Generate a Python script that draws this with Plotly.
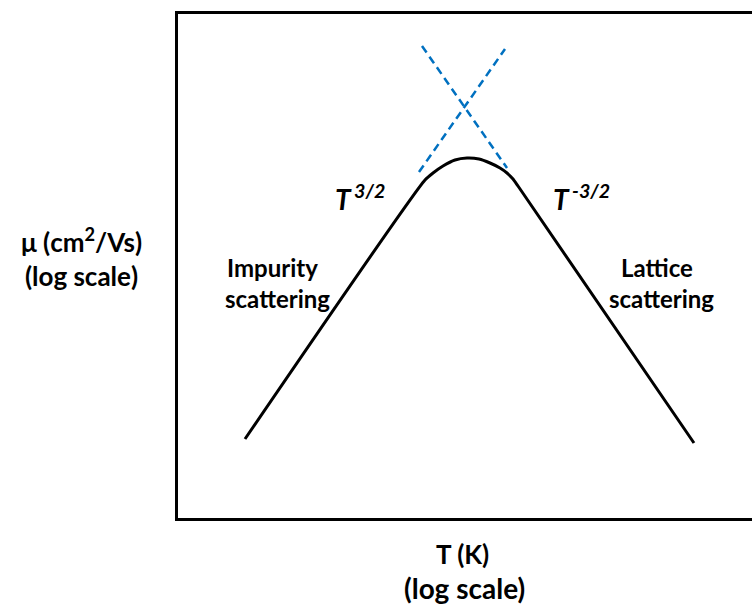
import plotly.graph_objects as go

# Schematic mobility vs temperature (log-log), units = plot units
curve_x = [68, 248, 256, 266, 278, 290, 302, 313, 323, 330, 336, 341, 517]
curve_y = [80, 339, 346, 353, 359, 361, 360, 356, 351, 346, 340, 333, 76]
impurity_x = [242, 328]
impurity_y = [347, 470]
lattice_x = [245, 330]
lattice_y = [473, 351]

FONT = "Lato"
L, T, R, B = 178, 14, 0, 92
W, H = 752, 610
PW, PH = W - L - R, H - T - B

fig = go.Figure()
fig.add_trace(go.Scatter(x=impurity_x, y=impurity_y, mode="lines",
                         line=dict(color="#0070C0", width=2.5, dash="8px,5px"),
                         hoverinfo="skip"))
fig.add_trace(go.Scatter(x=lattice_x, y=lattice_y, mode="lines",
                         line=dict(color="#0070C0", width=2.5, dash="8px,5px"),
                         hoverinfo="skip"))
fig.add_trace(go.Scatter(x=curve_x, y=curve_y, mode="lines",
                         line=dict(color="black", width=3, shape="spline", smoothing=0.6),
                         hoverinfo="skip"))

def ann(text, px, py, size=24, xanchor="center"):
    fig.add_annotation(text=text, x=(px - L) / PW, y=(H - B - py) / PH,
                       xref="paper", yref="paper", showarrow=False,
                       xanchor=xanchor, yanchor="middle", align="center",
                       font=dict(family=FONT, size=size, color="black"))

ann("<b>μ (cm<sup>2</sup>/Vs)<br>(log scale)</b>", 82, 257, size=26)
ann("<b>Impurity</b>", 272, 267)
ann("<b>scattering</b>", 277, 298)
ann("<b>Lattice</b>", 657, 267)
ann("<b>scattering</b>", 661, 298)
ann("<b>T (K)</b>", 462, 554, size=26)
ann("<b>(log scale)</b>", 464, 588, size=28)
ann("<b><i>T</i></b>&#8201;<sup><b><i>3/2</i></b></sup>", 333, 197, size=28, xanchor="left")
ann("<b><i>T</i></b>&#8201;<sup><b><i>-3/2</i></b></sup>", 551, 197, size=28, xanchor="left")

fig.update_layout(
    width=W, height=H,
    margin=dict(l=L, r=R, t=T, b=B),
    paper_bgcolor="white", plot_bgcolor="white",
    showlegend=False,
    xaxis=dict(range=[1, 575], showgrid=False, zeroline=False, showticklabels=False,
               ticks="", showline=True, linecolor="black", linewidth=3, mirror=True),
    yaxis=dict(range=[1, 505], showgrid=False, zeroline=False, showticklabels=False,
               ticks="", showline=True, linecolor="black", linewidth=3, mirror=False),
)
fig.write_html("out.html")
